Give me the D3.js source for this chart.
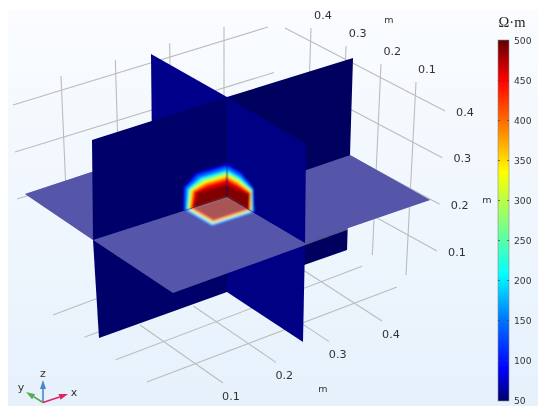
<!DOCTYPE html>
<html><head><meta charset="utf-8">
<style>html,body{margin:0;padding:0;background:#fff}svg{display:block}text{font-family:"DejaVu Sans",sans-serif}</style>
<script src="https://cdn.jsdelivr.net/npm/d3@7"></script></head>
<body><svg id="c" width="550" height="416"></svg>
<script>
// --- values ---
const xTicks=[0.1,0.2,0.3,0.4];
const yTicks=[0.1,0.2,0.3,0.4];
const zTicks=[0.1,0.2,0.3,0.4];
const backZTicks=[0.2,0.3,0.4];
const barTicks=[50,100,150,200,250,300,350,400,450,500];
const colorValues=[50,90,150,208,270,335,400,450,500];
const colorStops=["#00006a","#0000ff","#0072ff","#00ffff","#80ff80","#ffff00","#ff6a00","#ff0000","#600000"];
const contourLevels=[60,80,100,125,150,180,208,240,270,300,335,370,400,425,450,470,490];
const contourValues=[60,208,335,450,490];
const contourFractions=[0,0.36,0.55,0.77,1];
// anomaly outlines in metres from the centre of the three slices
const wallBOuter=[[.083,0],[.083,.06],[.06,.087],[0,.086]], wallBInner=[[.062,0],[.0545,.0335],[.03,.032],[0,.03]];
const wallAOuter=[[.088,0],[.084,.0625],[.046,.085],[0,.086]], wallAInner=[[.066,0],[.07,.0375],[.03,.032],[0,.03]];
const floorOuter=[[.08,0],[.08,.086],[0,.086]], floorInner=[[.062,0],[.062,.063],[0,.063]];

const svg=d3.select("#c");
const defs=svg.append("defs");
const color=d3.scaleLinear().domain(colorValues).range(colorStops).interpolate(d3.interpolateRgb).clamp(true);

// page background
const bg=defs.append("linearGradient").attr("id","bg").attr("x1",0).attr("y1",0).attr("x2",0).attr("y2",1);
bg.append("stop").attr("offset",0).attr("stop-color","#fafcff");
bg.append("stop").attr("offset",1).attr("stop-color","#e6f1fc");
defs.append("filter").attr("id","soft").attr("x","-5%").attr("y","-5%").attr("width","110%").attr("height","110%")
  .append("feGaussianBlur").attr("stdDeviation",0.45);
defs.append("filter").attr("id","hot").attr("x","-30%").attr("y","-30%").attr("width","160%").attr("height","160%")
  .append("feGaussianBlur").attr("stdDeviation",1.0);

svg.append("rect").attr("x",8).attr("y",10).attr("width",530).attr("height",396).attr("fill","url(#bg)");
const root=svg.append("g").attr("filter","url(#soft)");

// --- scene geometry (screen anchors of the slices) ---
const P={C:[227,197],CT:[227,97],CB:[227,292],
 BL:[99,338],BML:[93,240],BTL:[92,140],BR:[347,250],BMR:[350,155],BTR:[353,58],
 AF:[303,342],AMF:[305,243],ATF:[306,144],ATB:[151,54],AMB:[152,152],ABB:[152,245],
 H0:[173,293],H1:[430,200],H2:[25,194],H3:[275,110]};
const lineGen=d3.line();
const poly=(g,pts,fill)=>g.append("path").attr("d",lineGen(pts)+"Z").attr("fill",fill);

// --- grid lines: each family maps a tick to its two end points ---
function family(ticks,d0,a0,a1,b0,b1){
  const ax=d3.scaleLinear().domain(d0).range([a0[0],a1[0]]),ay=d3.scaleLinear().domain(d0).range([a0[1],a1[1]]);
  const bx=d3.scaleLinear().domain(d0).range([b0[0],b1[0]]),by=d3.scaleLinear().domain(d0).range([b0[1],b1[1]]);
  root.append("g").selectAll("line").data(ticks).join("line")
   .attr("x1",d=>ax(d)).attr("y1",d=>ay(d)).attr("x2",d=>bx(d)).attr("y2",d=>by(d))
   .attr("stroke","#bcbcbc").attr("stroke-width",1.1);
}
const T=[0.1,0.4];
family(xTicks,T,[223,383],[382,321],[140,325],[300,268]);   // floor, x = const
family(yTicks,T,[147,382],[53,315],[397,287],[292,225]);    // floor, y = const
family(zTicks,T,[437,251],[445,111],[330,192],[285,28]);    // right wall, z = const
family(yTicks,T,[416,82],[311,28],[406,275],[305,215]);     // right wall, y = const
family(backZTicks,[0.2,0.4],[17,199],[13,105],[280,118],[268,27]); // back wall, z = const
family(xTicks,T,[61,76],[224,27],[67,215],[224,150]);       // back wall, x = const

// --- slices ---
const scene=root.append("g");
poly(scene,[P.CB,P.BR,P.BMR,P.C],"#00005e");      // B right, below
poly(scene,[P.C,P.BML,P.BL,P.CB],"#00006b");      // B left, below
poly(scene,[P.C,P.AMF,P.AF,P.CB],"#000085");      // A front, below

// horizontal slice
poly(scene,[P.C,P.AMB,P.H3,P.BMR],"#000080");
poly(scene,[P.H2,P.BML,P.C,P.AMB],"#000080");
poly(scene,[P.AMF,P.H1,P.BMR,P.C],"#000080");
poly(scene,[P.H0,P.AMF,P.C,P.BML],"#000080");

// mapping of metres to the screen on each face around the centre
const face=(u,v)=>([a,b])=>[P.C[0]+a*u[0]+b*v[0],P.C[1]+a*u[1]+b*v[1]];
const uB=[-532,172],uA=[316,184],up=[0,-400];
const frac=d3.scaleLinear().domain(contourValues).range(contourFractions);
function hotspot(id,clipPts,outer,inner,map){
  defs.append("clipPath").attr("id",id).append("path").attr("d",lineGen(clipPts)+"Z");
  const g=scene.append("g").attr("clip-path",`url(#${id})`).append("g").attr("filter","url(#hot)");
  contourLevels.forEach(l=>{
    const t=frac(l);
    const ring=outer.map((p,i)=>[p[0]+(inner[i][0]-p[0])*t,p[1]+(inner[i][1]-p[1])*t]);
    poly(g,[[0,0],...ring].map(map),color(l));
  });
}
hotspot("cF",[P.H0,P.AMF,P.C,P.BML],floorOuter,floorInner,face(uB,uA));
// translucent white wash of the horizontal slice
poly(scene,[P.H0,P.H1,P.BMR,P.C,P.BML],"#ffffff").attr("opacity",.33);
poly(scene,[P.H2,P.BML,P.C,P.AMB],"#ffffff").attr("opacity",.33);

// upper walls
poly(scene,[P.ATB,P.CT,P.C,P.AMB],"#00008a");
poly(scene,[P.CT,P.BTR,P.BMR,P.C],"#00005e");
poly(scene,[P.BTL,P.CT,P.C,P.BML],"#00006b");
poly(scene,[P.CT,P.ATF,P.AMF,P.C],"#000085");
hotspot("cB",[P.BTL,P.CT,P.C,P.BML],wallBOuter,wallBInner,face(uB,up));
hotspot("cA",[P.CT,P.ATF,P.AMF,P.C],wallAOuter,wallAInner,face(uA,up));

// --- tick labels ---
const labels=root.append("g").attr("font-size",11.2).attr("fill","#333").attr("text-anchor","middle").attr("dominant-baseline","central");
const tickLabels=(ticks,x0,y0,x1,y1)=>{
  const sx=d3.scaleLinear().domain(T).range([x0,x1]),sy=d3.scaleLinear().domain(T).range([y0,y1]);
  labels.append("g").selectAll("text").data(ticks).join("text").attr("x",d=>sx(d)).attr("y",d=>sy(d)).text(d3.format(".1f"));
};
tickLabels(xTicks,231,396,391,334);
tickLabels(zTicks,457,252,465,112);
tickLabels(yTicks,427,69,323,15);
[[389,19],[487,199],[323,388]].forEach(p=>labels.append("text").attr("x",p[0]).attr("y",p[1]).attr("font-size",9.5).text("m"));

// --- colour bar ---
const barScale=d3.scaleLinear().domain([50,500]).range([400.5,40.5]);
const lg=defs.append("linearGradient").attr("id","bar").attr("x1",0).attr("y1",1).attr("x2",0).attr("y2",0);
colorValues.forEach((v,i)=>lg.append("stop").attr("offset",(v-50)/450).attr("stop-color",colorStops[i]));
root.append("rect").attr("x",498).attr("y",40).attr("width",11).attr("height",361).attr("fill","url(#bar)").attr("stroke","#8a8a8a").attr("stroke-width",.6);
const axR=root.append("g").attr("transform","translate(509,0)").call(d3.axisRight(barScale).tickValues(barTicks).tickSize(0).tickPadding(5).tickFormat(d3.format("d")));
axR.select(".domain").remove();
axR.selectAll("text").attr("font-size",9.2).attr("fill","#333").style("font-family",'"DejaVu Sans",sans-serif');
const tk=root.append("g").selectAll("g").data(barTicks).join("g");
tk.append("line").attr("x1",498).attr("x2",500).attr("y1",barScale).attr("y2",barScale).attr("stroke","#444").attr("stroke-width",.7);
tk.append("line").attr("x1",507).attr("x2",509).attr("y1",barScale).attr("y2",barScale).attr("stroke","#444").attr("stroke-width",.7);
root.append("text").attr("x",512).attr("y",27).attr("text-anchor","middle").attr("font-size",14.5).attr("fill","#222")
  .style("font-family",'"Liberation Serif",serif').text("Ω·m");

// --- axis triad ---
const tri=root.append("g");
function arrow(tip,col,name,lx,ly){
  const o=[43,402.5],dx=tip[0]-o[0],dy=tip[1]-o[1],len=Math.hypot(dx,dy),ux=dx/len,uy=dy/len;
  const b=[tip[0]-ux*9,tip[1]-uy*9];
  tri.append("line").attr("x1",o[0]).attr("y1",o[1]).attr("x2",b[0]).attr("y2",b[1]).attr("stroke",col).attr("stroke-width",1.6);
  poly(tri,[tip,[b[0]-uy*3,b[1]+ux*3],[b[0]+uy*3,b[1]-ux*3]],col);
  tri.append("text").attr("x",lx).attr("y",ly).attr("font-size",11).attr("fill","#333").attr("text-anchor","middle").attr("dominant-baseline","central").text(name);
}
arrow([43,380],"#4a86c5","z",43,373);
arrow([26,392],"#55aa55","y",21,387);
arrow([68,394],"#e0245e","x",74,392);
</script></body></html>
